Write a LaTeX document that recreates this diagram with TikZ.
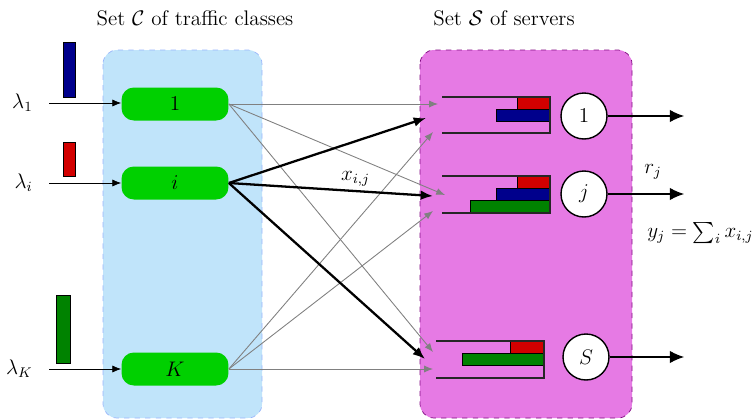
\documentclass[tikz,border=0pt,12pt]{standalone}
\usepackage{amsmath,amssymb}
\usetikzlibrary{arrows.meta, positioning}
\definecolor{classgreen}{RGB}{0,208,0}
\definecolor{classbg}{RGB}{192,228,250}
\definecolor{serverbg}{RGB}{230,122,228}
\definecolor{serveredge}{RGB}{130,10,130}
\definecolor{barblue}{RGB}{0,0,140}
\definecolor{barred}{RGB}{210,0,0}
\definecolor{bargreen}{RGB}{0,130,0}
\tikzset{
>={Latex[length=5pt, width=4pt]}, % small triangle arrow heads
class/.style={rectangle, rounded corners=7pt, fill=classgreen, minimum width=2.14cm, minimum height=0.66cm}, % green class boxes
server/.style={circle, draw, thick, fill=white, minimum size=0.92cm, inner sep=0pt}, % the server discs
feed/.style={->, thin}, % arrival arrows
route/.style={->, gray, line width=0.5pt}, % routes not taken by class i
iroute/.style={-{Latex[length=7pt, width=5.5pt]}, line width=1.3pt}, % routes of class i
leave/.style={-{Latex[length=8pt, width=7pt]}, line width=0.6pt}, % departures
bar/.style={draw, line width=0.4pt}, % job bars
queue/.style={line width=0.6pt, black!85}, % queue outline
}

\begin{document}
\begin{tikzpicture}[x=0.02cm, y=-0.02cm]
\useasboundingbox (0,0) rectangle (752,420);

% the two sets
\draw[fill=classbg, draw=classbg!80!blue, dashed, rounded corners=8pt] (103,50) rectangle (262,418);
\draw[fill=serverbg, draw=serveredge, dashed, rounded corners=8pt] (420,50) rectangle (632,418);
\node (setC) at (195,18) {Set $\mathcal{C}$ of traffic classes};
\node (setS) at (504,18) {Set $\mathcal{S}$ of servers};

% classes
\node[class] (cls1) at (175,104) {$1$};
\node[class] (clsi) at (175,183) {$i$};
\node[class] (clsK) at (175,369) {$K$};

% arrivals
\coordinate (src1) at (49,103);
\coordinate (srci) at (49,183);
\coordinate (srcK) at (49,369);
\node[left=0.18cm of src1] (lam1) {$\lambda_1$};
\node[left=0.18cm of srci] (lami) {$\lambda_i$};
\node[left=0.18cm of srcK] (lamK) {$\lambda_K$};
\draw[feed] (src1) -- (src1 -| cls1.west);
\draw[feed] (srci) -- (srci -| clsi.west);
\draw[feed] (srcK) -- (srcK -| clsK.west);
\draw[bar, fill=barblue] (63,42) rectangle (75,97);
\draw[bar, fill=barred] (63,142) rectangle (75,176);
\draw[bar, fill=bargreen] (56,295) rectangle (70,363);

% queues
\draw[bar, fill=barred] (517,97) rectangle (550,109);
\draw[bar, fill=barblue] (496,109) rectangle (550,121);
\draw[queue] (442,97) -- (550,97) -- (550,133) -- (442,133);
\draw[bar, fill=barred] (517,176) rectangle (550,188);
\draw[bar, fill=barblue] (496,188) rectangle (550,200);
\draw[bar, fill=bargreen] (470,200) rectangle (550,212);
\draw[queue] (442,176) -- (550,176) -- (550,213) -- (442,213);
\draw[bar, fill=barred] (510,341) rectangle (544,353);
\draw[bar, fill=bargreen] (462,353) rectangle (544,365);
\draw[queue] (436,341) -- (544,341) -- (544,378) -- (436,378);

% servers
\node[server] (srv1) at (584,116) {$1$};
\node[server] (srvj) at (584,194) {$j$};
\node[server] (srvS) at (586,357) {$S$};
\coordinate (out1) at (684,116);
\coordinate (outj) at (684,194);
\coordinate (outS) at (684,357);
\draw[leave] (srv1) -- (out1);
\draw[leave] (srvj) -- (outj);
\draw[leave] (srvS) -- (outS);
\node (rj) at (653,172) {$r_j$};
\node[anchor=west] (yj) at (640,233) {$y_j = \sum_i x_{i,j}$};

% where the routes end
\coordinate (q1from1) at (438,104);
\coordinate (q1fromi) at (426,118);
\coordinate (q1fromK) at (433,132);
\coordinate (qjfrom1) at (445,195);
\coordinate (qjfromi) at (433,196);
\coordinate (qjfromK) at (433,211);
\coordinate (qSfrom1) at (433,352);
\coordinate (qSfromi) at (425,359);
\coordinate (qSfromK) at (433,369);

% routing
\draw[route] (cls1.east) -- (q1from1);
\draw[route] (cls1.east) -- (qjfrom1);
\draw[route] (cls1.east) -- (qSfrom1);
\draw[route] (clsK.east) -- (q1fromK);
\draw[route] (clsK.east) -- (qjfromK);
\draw[route] (clsK.east) -- (qSfromK);
\draw[iroute] (clsi.east) -- (q1fromi);
\draw[iroute] (clsi.east) -- node[above, pos=.62, inner sep=2pt] {$x_{i,j}$} (qjfromi);
\draw[iroute] (clsi.east) -- (qSfromi);
\end{tikzpicture}
\end{document}
